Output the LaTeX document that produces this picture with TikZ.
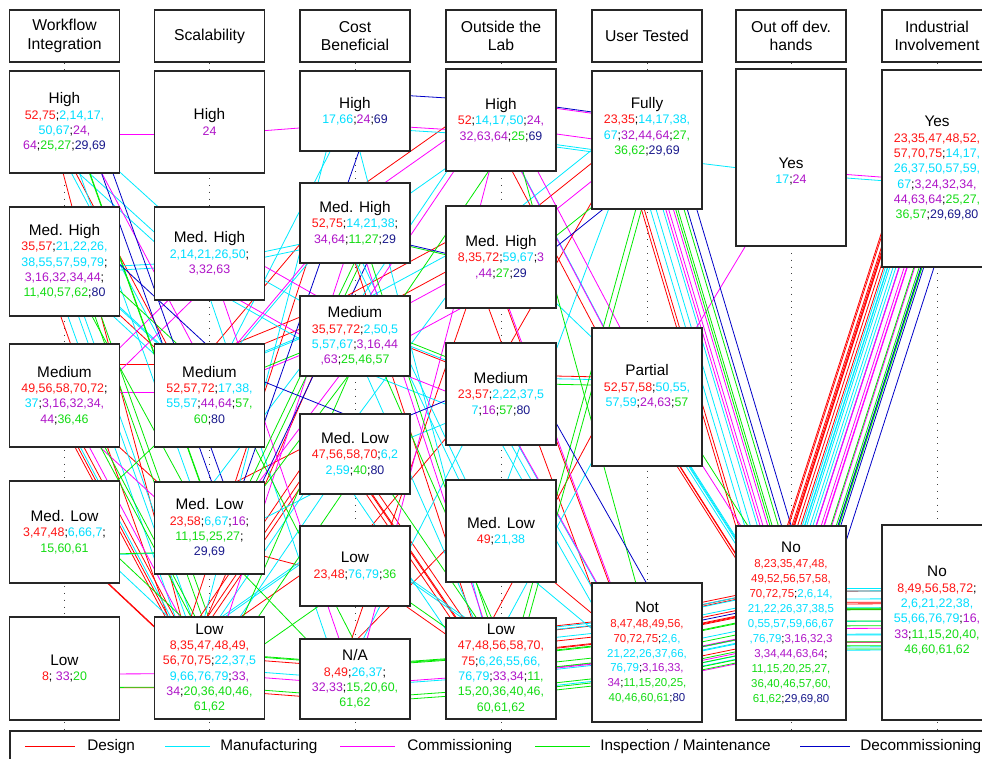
\documentclass[tikz,border=0pt]{standalone}
\usepackage{fontspec}
\setmainfont{Liberation Sans}
\usetikzlibrary{calc}
\pgfdeclarelayer{back}\pgfdeclarelayer{bg}
\pgfsetlayers{back,bg,main}
\definecolor{tR}{RGB}{255,20,20}
\definecolor{tC}{RGB}{0,222,255}
\definecolor{tM}{RGB}{175,20,200}
\definecolor{tG}{RGB}{20,220,20}
\definecolor{tB}{RGB}{25,25,140}
\definecolor{lR}{RGB}{255,0,0}
\definecolor{lC}{RGB}{0,235,255}
\definecolor{lM}{RGB}{255,0,255}
\definecolor{lG}{RGB}{0,235,0}
\definecolor{lB}{RGB}{0,0,200}
\newcommand\xR[1]{\textcolor{tR}{#1}}
\newcommand\xC[1]{\textcolor{tC}{#1}}
\newcommand\xM[1]{\textcolor{tM}{#1}}
\newcommand\xG[1]{\textcolor{tG}{#1}}
\newcommand\xB[1]{\textcolor{tB}{#1}}
\newcommand\ttl[1]{{\fontsize{11.5}{11.5}\selectfont #1}}
\newcommand\regp[4]{\foreach \nn in {#4}{\expandafter\xdef\csname P#1#3\nn\endcsname{#2}}}
% column 1
\regp{1}{w1}{r}{52,75}\regp{1}{w1}{c}{2,14,17,50,67}\regp{1}{w1}{m}{24,64}\regp{1}{w1}{g}{25,27}\regp{1}{w1}{b}{29,69}
\regp{1}{w2}{r}{35,57}\regp{1}{w2}{c}{21,22,26,38,55,57,59,79}\regp{1}{w2}{m}{3,16,32,34,44}\regp{1}{w2}{g}{11,40,57,62}\regp{1}{w2}{b}{80}
\regp{1}{w3}{r}{49,56,58,70,72}\regp{1}{w3}{c}{37}\regp{1}{w3}{m}{3,16,32,34,44}\regp{1}{w3}{g}{36,46}
\regp{1}{w4}{r}{3,47,48}\regp{1}{w4}{c}{6,66,7}\regp{1}{w4}{g}{15,60,61}
\regp{1}{w5}{r}{8}\regp{1}{w5}{m}{33}\regp{1}{w5}{g}{20}
% column 2
\regp{2}{s1}{m}{24}
\regp{2}{s2}{c}{2,14,21,26,50}\regp{2}{s2}{m}{3,32,63}
\regp{2}{s3}{r}{52,57,72}\regp{2}{s3}{c}{17,38,55,57}\regp{2}{s3}{m}{44,64}\regp{2}{s3}{g}{57,60}\regp{2}{s3}{b}{80}
\regp{2}{s4}{r}{23,58}\regp{2}{s4}{c}{6,67}\regp{2}{s4}{m}{16}\regp{2}{s4}{g}{11,15,25,27}\regp{2}{s4}{b}{29,69}
\regp{2}{s5}{r}{8,35,47,48,49,56,70,75}\regp{2}{s5}{c}{22,37,59,66,76,79}\regp{2}{s5}{m}{33,34}\regp{2}{s5}{g}{20,36,40,46,61,62}
% column 3
\regp{3}{k1}{c}{17,66}\regp{3}{k1}{m}{24}\regp{3}{k1}{b}{69}
\regp{3}{k2}{r}{52,75}\regp{3}{k2}{c}{14,21,38}\regp{3}{k2}{m}{34,64}\regp{3}{k2}{g}{11,27}\regp{3}{k2}{b}{29}
\regp{3}{k3}{r}{35,57,72}\regp{3}{k3}{c}{2,50,55,57,67}\regp{3}{k3}{m}{3,16,44,63}\regp{3}{k3}{g}{25,46,57}
\regp{3}{k4}{r}{47,56,58,70}\regp{3}{k4}{c}{6,22,59}\regp{3}{k4}{g}{40}\regp{3}{k4}{b}{80}
\regp{3}{k5}{r}{23,48}\regp{3}{k5}{c}{76,79}\regp{3}{k5}{g}{36}
\regp{3}{k6}{r}{8,49}\regp{3}{k6}{c}{26,37}\regp{3}{k6}{m}{32,33}\regp{3}{k6}{g}{15,20,60,61,62}
% column 4
\regp{4}{o1}{r}{52}\regp{4}{o1}{c}{14,17,50}\regp{4}{o1}{m}{24,32,63,64}\regp{4}{o1}{g}{25}\regp{4}{o1}{b}{69}
\regp{4}{o2}{r}{8,35,72}\regp{4}{o2}{c}{59,67}\regp{4}{o2}{m}{3,44}\regp{4}{o2}{g}{27}\regp{4}{o2}{b}{29}
\regp{4}{o3}{r}{23,57}\regp{4}{o3}{c}{2,22,37,57}\regp{4}{o3}{m}{16}\regp{4}{o3}{g}{57}\regp{4}{o3}{b}{80}
\regp{4}{o4}{r}{49}\regp{4}{o4}{c}{21,38}
\regp{4}{o5}{r}{47,48,56,58,70,75}\regp{4}{o5}{c}{6,26,55,66,76,79}\regp{4}{o5}{m}{33,34}\regp{4}{o5}{g}{11,15,20,36,40,46,60,61,62}
% column 5
\regp{5}{u1}{r}{23,35}\regp{5}{u1}{c}{14,17,38,67}\regp{5}{u1}{m}{32,44,64}\regp{5}{u1}{g}{27,36,62}\regp{5}{u1}{b}{29,69}
\regp{5}{u2}{r}{52,57,58}\regp{5}{u2}{c}{50,55,57,59}\regp{5}{u2}{m}{24,63}\regp{5}{u2}{g}{57}
\regp{5}{u3}{r}{8,47,48,49,56,70,72,75}\regp{5}{u3}{c}{2,6,21,22,26,37,66,76,79}\regp{5}{u3}{m}{3,16,33,34}\regp{5}{u3}{g}{11,15,20,25,40,46,60,61}\regp{5}{u3}{b}{80}
% column 6
\regp{6}{d1}{c}{17}\regp{6}{d1}{m}{24}
\regp{6}{d2}{r}{8,23,35,47,48,49,52,56,57,58,70,72,75}\regp{6}{d2}{c}{2,6,14,21,22,26,37,38,50,55,57,59,66,67,76,79}\regp{6}{d2}{m}{3,16,32,33,34,44,63,64}\regp{6}{d2}{g}{11,15,20,25,27,36,40,46,57,60,61,62}\regp{6}{d2}{b}{29,69,80}
% column 7
\regp{7}{i1}{r}{23,35,47,48,52,57,70,75}\regp{7}{i1}{c}{14,17,26,37,50,57,59,67}\regp{7}{i1}{m}{3,24,32,34,44,63,64}\regp{7}{i1}{g}{25,27,36,57}\regp{7}{i1}{b}{29,69,80}
\regp{7}{i2}{r}{8,49,56,58,72}\regp{7}{i2}{c}{2,6,21,22,38,55,66,76,79}\regp{7}{i2}{m}{16,33}\regp{7}{i2}{g}{11,15,20,40,46,60,61,62}
\tikzset{
  box/.style={draw=black!85, line width=0.8pt, fill=white, minimum width=82.5pt, inner sep=1pt, align=center, font=\fontsize{9.3}{11.5}\selectfont},
  smallbox/.style={box, font=\fontsize{8.6}{11.2}\selectfont},
  hdr/.style={draw=black!85, line width=0.8pt, fill=white, minimum width=82.5pt, minimum height=39pt, inner sep=1pt, align=center, font=\fontsize{11.8}{14}\selectfont},
  lnr/.style={lR, line width=0.6pt},
  lnc/.style={lC, line width=0.6pt},
  lnm/.style={lM, line width=0.6pt},
  lng/.style={lG, line width=0.6pt},
  lnb/.style={lB, line width=0.6pt},
  dotl/.style={black!75, line width=0.6pt, dash pattern=on 0.6pt off 4.5pt},
  lgt/.style={anchor=west, inner sep=0pt, font=\fontsize{11.5}{13}\selectfont},
}
\begin{document}
\begin{tikzpicture}[x=0.75pt, y=-0.75pt]
\useasboundingbox (0,0) rectangle (982,758);
\begin{pgfonlayer}{back}
\fill[white] (0,0) rectangle (982,758);
\end{pgfonlayer}
% headers
\node[hdr] (h1) at (64.5,36) {Workflow\\Integration};
\node[hdr] (h2) at (209.5,36) {Scalability};
\node[hdr] (h3) at (355,36) {Cost\\Beneficial};
\node[hdr] (h4) at (501,36) {Outside the\\Lab};
\node[hdr] (h5) at (647,36) {User Tested};
\node[hdr] (h6) at (791,36) {Out off dev.\\hands};
\node[hdr] (h7) at (937,36) {Industrial\\Involvement};
% column 1
\node[box, minimum height=76.5pt] (w1) at (64.5,122) {\ttl{High}\\\xR{52,75};\xC{2,14,17,}\\\xC{50,67};\xM{24,}\\\xM{64};\xG{25,27};\xB{29,69}};
\node[box, minimum height=81.75pt] (w2) at (64.5,261.5) {\ttl{Med. High}\\\xR{35,57};\xC{21,22,26,}\\\xC{38,55,57,59,79};\\\xM{3,16,32,34,44};\\\xG{11,40,57,62};\xB{80}};
\node[box, minimum height=77.25pt] (w3) at (64.5,395.5) {\ttl{Medium}\\\xR{49,56,58,70,72};\\\xC{37};\xM{3,16,32,34,}\\\xM{44};\xG{36,46}};
\node[box, minimum height=76.5pt] (w4) at (64.5,532) {\ttl{Med. Low}\\\xR{3,47,48};\xC{6,66,7};\\\xG{15,60,61}};
\node[box, minimum height=77.25pt] (w5) at (64.5,668.5) {\ttl{Low}\\\xR{8}; \xM{33};\xG{20}};
% column 2
\node[box, minimum height=76.5pt] (s1) at (209.5,122) {\ttl{High}\\\xM{24}};
\node[box, minimum height=69.75pt] (s2) at (209.5,253.5) {\ttl{Med. High}\\\xC{2,14,21,26,50};\\\xM{3,32,63}};
\node[box, minimum height=77.25pt] (s3) at (209.5,395.5) {\ttl{Medium}\\\xR{52,57,72};\xC{17,38,}\\\xC{55,57};\xM{44,64};\xG{57,}\\\xG{60};\xB{80}};
\node[box, minimum height=69pt] (s4) at (209.5,528) {\ttl{Med. Low}\\\xR{23,58};\xC{6,67};\xM{16};\\\xG{11,15,25,27};\\\xB{29,69}};
\node[box, minimum height=76.5pt] (s5) at (209.5,668) {\ttl{Low}\\\xR{8,35,47,48,49,}\\\xR{56,70,75};\xC{22,37,5}\\\xC{9,66,76,79};\xM{33,}\\\xM{34};\xG{20,36,40,46,}\\\xG{61,62}};
% column 3
\node[box, minimum height=60pt] (k1) at (355,111) {\ttl{High}\\\xC{17,66};\xM{24};\xB{69}};
\node[box, minimum height=60pt] (k2) at (355,223) {\ttl{Med. High}\\\xR{52,75};\xC{14,21,38};\\\xM{34,64};\xG{11,27};\xB{29}};
\node[box, minimum height=60pt] (k3) at (355,336) {\ttl{Medium}\\\xR{35,57,72};\xC{2,50,5}\\\xC{5,57,67};\xM{3,16,44}\\\xM{,63};\xG{25,46,57}};
\node[box, minimum height=60pt] (k4) at (355,454) {\ttl{Med. Low}\\\xR{47,56,58,70};\xC{6,2}\\\xC{2,59};\xG{40};\xB{80}};
\node[box, minimum height=60pt] (k5) at (355,566) {\ttl{Low}\\\xR{23,48};\xC{76,79};\xG{36}};
\node[box, minimum height=60pt] (k6) at (355,679) {\ttl{N/A}\\\xR{8,49};\xC{26,37};\\\xM{32,33};\xG{15,20,60,}\\\xG{61,62}};
% column 4
\node[box, minimum height=76.5pt] (o1) at (501,120) {\ttl{High}\\\xR{52};\xC{14,17,50};\xM{24,}\\\xM{32,63,64};\xG{25};\xB{69}};
\node[box, minimum height=76.5pt] (o2) at (501,257) {\ttl{Med. High}\\\xR{8,35,72};\xC{59,67};\xM{3}\\\xM{,44};\xG{27};\xB{29}};
\node[box, minimum height=76.5pt] (o3) at (501,394) {\ttl{Medium}\\\xR{23,57};\xC{2,22,37,5}\\\xC{7};\xM{16};\xG{57};\xB{80}};
\node[box, minimum height=76.5pt] (o4) at (501,531) {\ttl{Med. Low}\\\xR{49};\xC{21,38}};
\node[box, minimum height=75.75pt] (o5) at (501,668.5) {\ttl{Low}\\\xR{47,48,56,58,70,}\\\xR{75};\xC{6,26,55,66,}\\\xC{76,79};\xM{33,34};\xG{11,}\\\xG{15,20,36,40,46,}\\\xG{60,61,62}};
% column 5
\node[box, minimum height=103.5pt] (u1) at (647,140) {\ttl{Fully}\\\xR{23,35};\xC{14,17,38,}\\\xC{67};\xM{32,44,64};\xG{27,}\\\xG{36,62};\xB{29,69}\\[6pt]\strut};
\node[box, minimum height=103.5pt] (u2) at (647,397) {\ttl{Partial}\\\xR{52,57,58};\xC{50,55,}\\\xC{57,59};\xM{24,63};\xG{57}\\[2pt]\strut};
\node[smallbox, minimum height=104.25pt] (u3) at (647,652.5) {\ttl{Not}\\\xR{8,47,48,49,56,}\\\xR{70,72,75};\xC{2,6,}\\\xC{21,22,26,37,66,}\\\xC{76,79};\xM{3,16,33,}\\\xM{34};\xG{11,15,20,25,}\\\xG{40,46,60,61};\xB{80}};
% column 6
\node[box, minimum height=132.75pt] (d1) at (791,157.5) {\strut\\[9pt]\ttl{Yes}\\\xC{17};\xM{24}};
\node[smallbox, minimum height=145.5pt] (d2) at (791,623) {\ttl{No}\\\xR{8,23,35,47,48,}\\\xR{49,52,56,57,58,}\\\xR{70,72,75};\xC{2,6,14,}\\\xC{21,22,26,37,38,5}\\\xC{0,55,57,59,66,67}\\\xC{,76,79};\xM{3,16,32,3}\\\xM{3,34,44,63,64};\\\xG{11,15,20,25,27,}\\\xG{36,40,46,57,60,}\\\xG{61,62};\xB{29,69,80}};
% column 7
\node[box, minimum height=147.75pt] (i1) at (937,168.5) {\ttl{Yes}\\\xR{23,35,47,48,52,}\\\xR{57,70,75};\xC{14,17,}\\\xC{26,37,50,57,59,}\\\xC{67};\xM{3,24,32,34,}\\\xM{44,63,64};\xG{25,27,}\\\xG{36,57};\xB{29,69,80}};
\node[box, minimum height=146.25pt] (i2) at (937,622.5) {\ttl{No}\\\xR{8,49,56,58,72};\\\xC{2,6,21,22,38,}\\\xC{55,66,76,79};\xM{16,}\\\xM{33};\xG{11,15,20,40,}\\\xG{46,60,61,62}\\[4pt]\strut};
% dotted column guides
\coordinate (e1) at (64.5,730);
\coordinate (e2) at (209.5,730);
\coordinate (e3) at (355,730);
\coordinate (e4) at (501,730);
\coordinate (e5) at (647,730);
\coordinate (e6) at (791,730);
\coordinate (e7) at (937,730);
\begin{pgfonlayer}{bg}
\foreach \q in {1,...,7}{\draw[dotl] (h\q.south) -- (e\q);}
\foreach \colno in {1,...,6}{%
  \pgfmathtruncatemacro\cnext{\colno+1}%
  \foreach \kk/\ci in {r/0,c/1,m/2,g/3,b/4}{%
    \foreach \nn in {1,...,80}{%
      \ifcsname P\colno\kk\nn\endcsname
        \ifcsname P\cnext\kk\nn\endcsname
          \edef\pA{\csname P\colno\kk\nn\endcsname}%
          \edef\pB{\csname P\cnext\kk\nn\endcsname}%
          \pgfmathsetmacro\ddx{(\ci-2)*12}%
          \pgfmathsetmacro\ddy{(40-\nn)*0.8+(\ci-2)*3}%
          \draw[ln\kk] ($(\pA)+(\ddx,\ddy)$) -- ($(\pB)+(\ddx,\ddy)$);
        \fi
      \fi
    }}}
\end{pgfonlayer}
% legend
\draw[black!85, line width=0.8pt] (10,731) rectangle (1000,775);
\coordinate (la1) at (25,746); \coordinate (la2) at (75,746);
\coordinate (lb1) at (165,746); \coordinate (lb2) at (210,746);
\coordinate (lc1) at (340,746); \coordinate (lc2) at (395,746);
\coordinate (ld1) at (535,746); \coordinate (ld2) at (590,746);
\coordinate (le1) at (800,746); \coordinate (le2) at (850,746);
\draw[lnr] (la1) -- (la2);
\draw[lnc] (lb1) -- (lb2);
\draw[lnm] (lc1) -- (lc2);
\draw[lng] (ld1) -- (ld2);
\draw[lnb] (le1) -- (le2);
\node[lgt] (lt1) at (87,747) {Design};
\node[lgt] (lt2) at (220,747) {Manufacturing};
\node[lgt] (lt3) at (407,747) {Commissioning};
\node[lgt] (lt4) at (600,747) {Inspection / Maintenance};
\node[lgt] (lt5) at (860,747) {Decommissioning};
\end{tikzpicture}
\end{document}
